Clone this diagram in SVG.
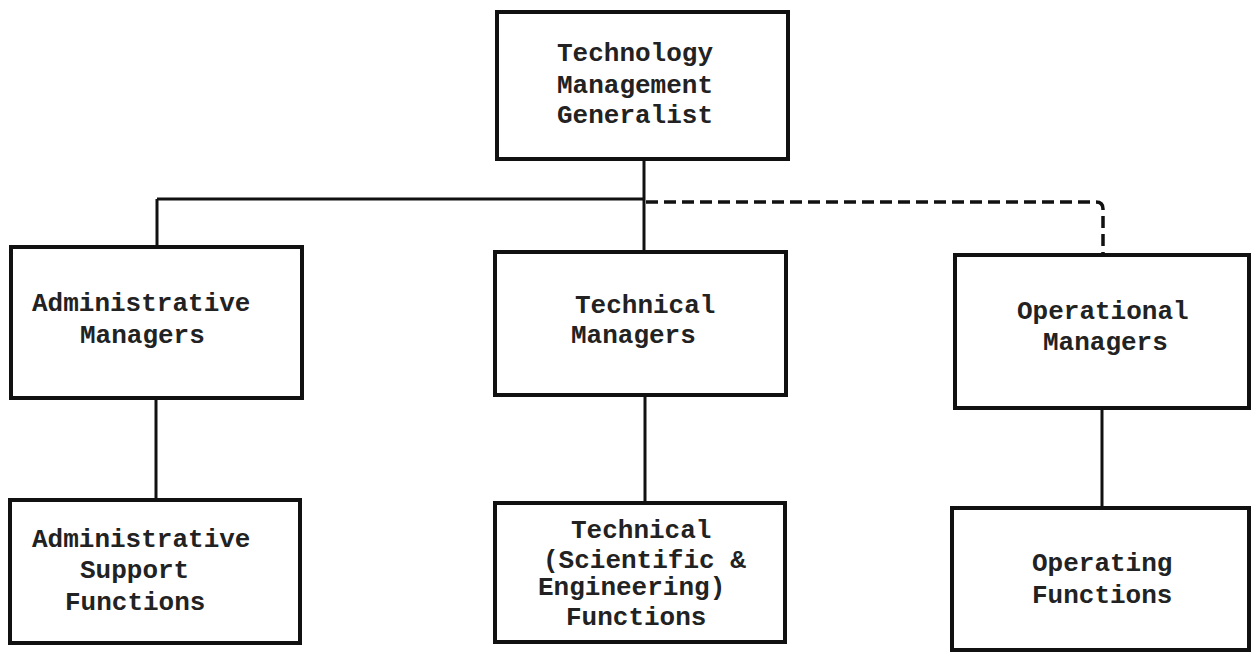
<svg xmlns="http://www.w3.org/2000/svg" width="1253" height="657" viewBox="0 0 1253 657">
<style>
.box{fill:#fff;stroke:#111;stroke-width:4}
.t{font-family:"Liberation Mono","Courier New",monospace;font-weight:bold;font-size:26px;fill:#222}
.c{fill:none;stroke:#111;stroke-width:3}
.d{fill:none;stroke:#111;stroke-width:3.5;stroke-dasharray:12 6}
</style>
<rect width="1253" height="657" fill="#fff"/>
<g id="connectors">
<path class="c" d="M644,159 V252"/>
<path class="c" d="M157,199 H644"/>
<path class="c" d="M157,199 V247"/>
<path class="d" d="M646,202 H1096 Q1103,202 1103,209 V255"/>
<path class="c" d="M156,398 V500"/>
<path class="c" d="M645,395 V503"/>
<path class="c" d="M1102,408 V508"/>
</g>
<g id="top">
<rect class="box" x="497" y="12" width="291" height="147"/>
<text class="t" x="557" y="61">Technology</text>
<text class="t" x="557" y="93">Management</text>
<text class="t" x="557" y="123">Generalist</text>
</g>
<g id="admin-managers">
<rect class="box" x="11" y="247" width="291" height="151"/>
<text class="t" x="32" y="311">Administrative</text>
<text class="t" x="80" y="343">Managers</text>
</g>
<g id="tech-managers">
<rect class="box" x="495" y="252" width="291" height="143"/>
<text class="t" x="575" y="313">Technical</text>
<text class="t" x="571" y="343">Managers</text>
</g>
<g id="op-managers">
<rect class="box" x="955" y="255" width="294" height="153"/>
<text class="t" x="1017" y="319">Operational</text>
<text class="t" x="1043" y="350">Managers</text>
</g>
<g id="admin-support">
<rect class="box" x="10" y="500" width="290" height="143"/>
<text class="t" x="32" y="547">Administrative</text>
<text class="t" x="80" y="578">Support</text>
<text class="t" x="65" y="610">Functions</text>
</g>
<g id="tech-functions">
<rect class="box" x="495" y="503" width="290" height="139"/>
<text class="t" x="571" y="538">Technical</text>
<text class="t" x="543" y="568">(Scientific &amp;</text>
<text class="t" x="538" y="595">Engineering)</text>
<text class="t" x="566" y="625">Functions</text>
</g>
<g id="op-functions">
<rect class="box" x="952" y="508" width="297" height="142"/>
<text class="t" x="1032" y="571">Operating</text>
<text class="t" x="1032" y="603">Functions</text>
</g>
</svg>
